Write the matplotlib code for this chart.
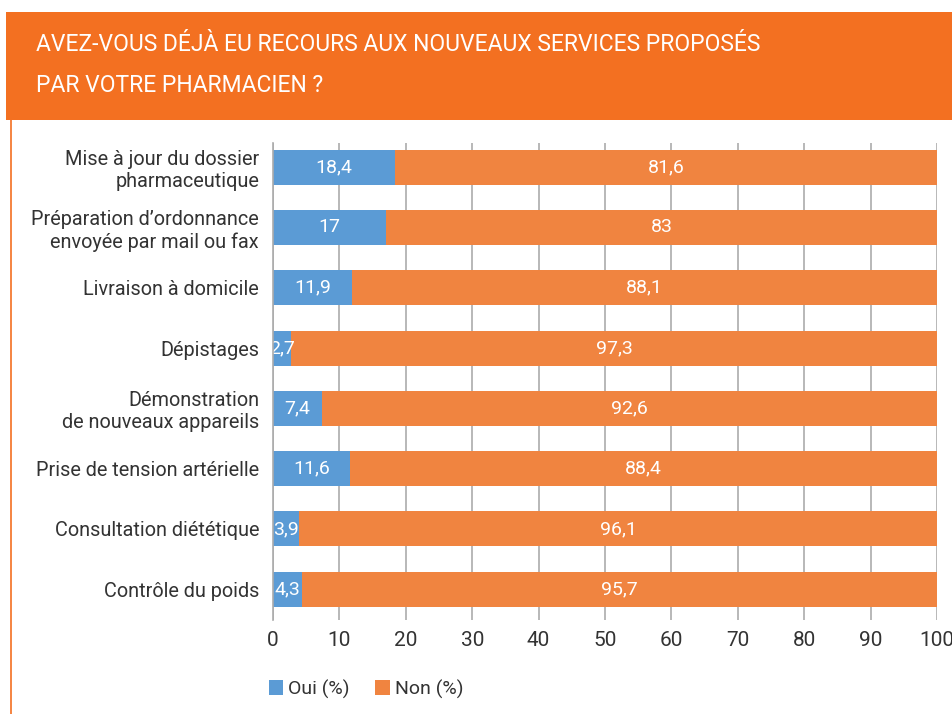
'''
Stacked horizontal bars: use of new pharmacy services (Oui / Non)
'''
import matplotlib
matplotlib.use("Agg")
import matplotlib.pyplot as plt
from matplotlib.patches import Rectangle
from matplotlib.lines import Line2D

#data
categories = ["Mise à jour du dossier\npharmaceutique",
              "Préparation d’ordonnance\nenvoyée par mail ou fax",
              "Livraison à domicile",
              "Dépistages",
              "Démonstration\nde nouveaux appareils",
              "Prise de tension artérielle",
              "Consultation diététique",
              "Contrôle du poids"]
oui = [18.4, 17, 11.9, 2.7, 7.4, 11.6, 3.9, 4.3]
non = [81.6, 83, 88.1, 97.3, 92.6, 88.4, 96.1, 95.7]
series_names = ["Oui (%)", "Non (%)"]
xticks = [0, 10, 20, 30, 40, 50, 60, 70, 80, 90, 100]
title = "AVEZ-VOUS DÉJÀ EU RECOURS AUX NOUVEAUX SERVICES PROPOSÉS\nPAR VOTRE PHARMACIEN ?"

blue = "#5B9BD5"
orange = "#F08440"
header = "#F37021"
txt = "#333333"

plt.rcParams['font.family'] = ['Roboto', 'DejaVu Sans']
W, H = 953, 714
fig = plt.figure(figsize=(W/100, H/100), dpi=100)

#header banner and left border
fig.patches.append(Rectangle((6/W, 1-120/H), 1-6/W, 108/H, transform=fig.transFigure,
                             facecolor=header, edgecolor="none", zorder=0))
fig.lines.append(Line2D([11.5/W, 11.5/W], [0, 1-120/H], transform=fig.transFigure,
                        color=header, lw=1.2))
fig.text(36/W, 1-65/H, title, color="white", fontsize=16.5, va="center", ha="left",
         linespacing=1.95)

ax = fig.add_axes([273/W, 1-620/H, (937-273)/W, (620-143)/H])
y = list(range(len(categories)))
b1 = ax.barh(y, oui, height=0.58, color=blue, label=series_names[0], zorder=3)
b2 = ax.barh(y, non, left=oui, height=0.58, color=orange, label=series_names[1], zorder=3)

def fmt(v):
    return f"{v:g}".replace(".", ",")

for i in y:
    ax.text(oui[i]/2, i, fmt(oui[i]), color="white", ha="center", va="center",
            fontsize=14, zorder=4)
    ax.text(oui[i] + non[i]/2, i, fmt(non[i]), color="white", ha="center", va="center",
            fontsize=14, zorder=4)

ax.set_ylim(7.51, -0.40)
ax.set_xlim(0, 100)
ax.set_xticks(xticks)
ax.set_yticks(y)
ax.set_yticklabels(categories, fontsize=14.3, color=txt)
ax.tick_params(axis="x", length=0, pad=8, labelsize=15, labelcolor=txt)
ax.tick_params(axis="y", length=0, pad=10)
ax.grid(axis="x", color="#ABABAB", lw=1.2, zorder=0)
for s in ["top", "right", "bottom"]:
    ax.spines[s].set_visible(False)
ax.spines["left"].set_color("#ABABAB")
ax.spines["left"].set_linewidth(1.2)
ax.spines["left"].set_zorder(5)

fig.legend(handles=[b1, b2], loc="center", bbox_to_anchor=(366/W, 1-689/H), ncol=2,
           frameon=False, fontsize=14, handlelength=0.75, handleheight=0.75,
           handletextpad=0.25, columnspacing=1.3, labelcolor=txt)

fig.savefig("out.png", dpi=100)
